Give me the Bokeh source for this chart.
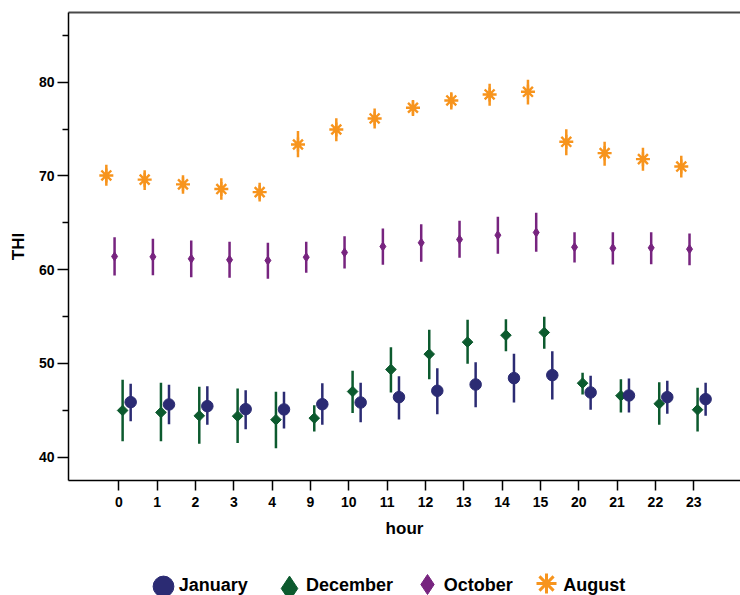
import math
from bokeh.plotting import figure
from bokeh.layouts import column
from bokeh.models import (ColumnDataSource, Range1d, FixedTicker, LinearAxis,
                          Legend, LegendItem, Label)
from bokeh.transform import dodge
from bokeh.embed import file_html
from bokeh.resources import INLINE

# ---------------- data ----------------
hours = ["0", "1", "2", "3", "4", "9", "10", "11", "12", "13", "14", "15",
         "20", "21", "22", "23"]

august_mean = [70.05, 69.6, 69.1, 68.6, 68.27, 73.35, 74.95, 76.13, 77.27, 78.05,
               78.69, 78.97, 73.64, 72.43, 71.79, 71.0]
august_low = [68.96, 68.5, 68.1, 67.46, 67.27, 72.0, 73.7, 75.05, 76.4, 77.09,
              77.48, 77.62, 72.21, 71.08, 70.55, 69.84]
august_high = [71.2, 70.6, 70.08, 69.76, 69.27, 74.8, 76.15, 77.2, 78.1, 78.93,
               79.83, 80.26, 74.99, 73.64, 73.0, 72.15]

october_mean = [61.41, 61.37, 61.16, 61.05, 60.98, 61.33, 61.83, 62.47, 62.87, 63.22,
                63.68, 63.97, 62.4, 62.29, 62.33, 62.19]
october_low = [59.38, 59.4, 59.2, 59.14, 59.03, 59.67, 60.13, 60.52, 60.84, 61.27,
               61.7, 61.9, 60.77, 60.55, 60.59, 60.48]
october_high = [63.47, 63.3, 63.1, 62.97, 62.87, 62.97, 63.57, 64.39, 64.85, 65.21,
                65.64, 66.07, 64.0, 64.0, 64.0, 63.86]

december_mean = [44.98, 44.77, 44.41, 44.37, 43.99, 44.16, 47.0, 49.35, 50.99, 52.27,
                 53.01, 53.3, 47.89, 46.55, 45.7, 45.06]
december_low = [41.71, 41.71, 41.43, 41.5, 40.96, 42.74, 44.7, 46.9, 48.32, 49.96,
                51.31, 51.56, 46.69, 44.77, 43.46, 42.74]
december_high = [48.26, 47.94, 47.51, 47.33, 46.98, 45.55, 49.22, 51.73, 53.59, 54.65,
                 54.72, 54.98, 49.0, 48.32, 48.0, 47.4]

january_mean = [45.87, 45.62, 45.44, 45.12, 45.09, 45.65, 45.83, 46.4, 47.08, 47.75,
                48.43, 48.75, 46.9, 46.58, 46.4, 46.19]
january_low = [43.84, 43.52, 43.46, 42.99, 43.06, 43.46, 43.73, 44.02, 44.59, 45.33,
               45.83, 46.15, 45.06, 44.77, 44.63, 44.42]
january_high = [47.83, 47.72, 47.57, 47.15, 46.98, 47.89, 47.94, 48.64, 49.49, 50.13,
                51.03, 51.31, 48.68, 48.4, 48.15, 47.94]

series_labels = ["January", "December", "October", "August"]

y_major = [40, 50, 60, 70, 80]
y_minor = [45, 55, 65, 75, 85]

# ---------------- style ----------------
FONT = "Liberation Sans"
C_AUG = "#F7941D"
C_OCT = "#77247F"
C_DEC = "#0C5A2E"
C_JAN = "#2B2B73"

src = ColumnDataSource(dict(
    x=list(range(len(hours))),
    aug_mean=august_mean, aug_low=august_low, aug_high=august_high,
    oct_mean=october_mean, oct_low=october_low, oct_high=october_high,
    dec_mean=december_mean, dec_low=december_low, dec_high=december_high,
    jan_mean=january_mean, jan_low=january_low, jan_high=january_high,
))

p = figure(width=740, height=550,
           x_range=Range1d(-1.312, 16.22), y_range=Range1d(37.51, 87.43),
           output_backend="svg", toolbar_location=None,
           min_border_left=68, min_border_right=0, min_border_top=12,
           min_border_bottom=70, outline_line_color=None,
           background_fill_color="white", border_fill_color="white")
p.xgrid.visible = False
p.ygrid.visible = False

# ---------------- glyphs ----------------
OFF = {"aug": -0.325, "oct": -0.11, "dec": 0.10, "jan": 0.31}
COL = {"aug": C_AUG, "oct": C_OCT, "dec": C_DEC, "jan": C_JAN}
for key in ["aug", "oct", "dec", "jan"]:
    xs = dodge("x", OFF[key])
    p.segment(x0=xs, y0=f"{key}_low", x1=xs, y1=f"{key}_high", source=src,
              line_color=COL[key], line_width=2.5)

p.scatter(x=dodge("x", OFF["aug"]), y="aug_mean", source=src,
          marker="asterisk", size=14, line_color=C_AUG, line_width=2.4)
p.scatter(x=dodge("x", OFF["aug"]), y="aug_mean", source=src, marker="circle",
          size=5, fill_color=C_AUG, line_color=C_AUG)
p.scatter(x=dodge("x", OFF["oct"]), y="oct_mean", source=src,
          marker="diamond", size=9, fill_color=C_OCT, line_color=C_OCT)
p.scatter(x=dodge("x", OFF["dec"]), y="dec_mean", source=src,
          marker="square", angle=math.pi / 4, size=7.5,
          fill_color=C_DEC, line_color=C_DEC)
p.scatter(x=dodge("x", OFF["jan"]), y="jan_mean", source=src,
          marker="circle", size=11.5, fill_color=C_JAN, line_color=C_JAN)

# ---------------- axes ----------------
xa = p.xaxis[0]
xa.ticker = FixedTicker(ticks=list(range(len(hours))))
xa.major_label_overrides = {i: h for i, h in enumerate(hours)}
xa.major_tick_out = 10
xa.major_tick_in = 0
xa.major_label_standoff = 6
xa.axis_label = "hour"
xa.axis_label_standoff = 9

ya = p.yaxis[0]
ya.ticker = FixedTicker(ticks=y_major, minor_ticks=y_minor)
ya.major_tick_out = 11
ya.major_tick_in = 0
ya.minor_tick_out = 6
ya.minor_tick_in = 0
ya.major_label_standoff = 3
ya.axis_label = "THI"
ya.axis_label_standoff = 8

for ax in (xa, ya):
    ax.axis_line_color = "black"
    ax.axis_line_width = 1.5
    ax.major_tick_line_color = "black"
    ax.major_tick_line_width = 1.5
    ax.minor_tick_line_width = 1.5
    ax.major_label_text_font = FONT
    ax.major_label_text_font_style = "bold"
    ax.major_label_text_font_size = "14px"
    ax.major_label_text_color = "black"
    ax.axis_label_text_font = FONT
    ax.axis_label_text_font_style = "bold"
    ax.axis_label_text_font_size = "17px"
    ax.axis_label_text_color = "black"
xa.minor_tick_line_color = None
ya.minor_tick_line_color = "black"

top = LinearAxis(ticker=FixedTicker(ticks=[]), major_tick_out=0, major_tick_in=0,
                 minor_tick_line_color=None, major_label_text_font_size="0px",
                 axis_line_color="#4a4a4a", axis_line_width=1.8)
p.add_layout(top, "above")

# ---------------- legend strip ----------------
LEG_H = 45
lg = figure(width=740, height=LEG_H, x_range=Range1d(0, 1), y_range=Range1d(0, 1),
            x_axis_type=None, y_axis_type=None, output_backend="svg",
            toolbar_location=None, min_border=0, outline_line_color=None,
            background_fill_color="white", border_fill_color="white")
lg.xgrid.visible = False
lg.ygrid.visible = False

# key glyphs (drawn from the real series; all points fall outside this strip's view)
key_rends = {
    "jan": lg.scatter(x="x", y="jan_mean", source=src, marker="circle",
                      fill_color=C_JAN, line_color=C_JAN),
    "dec": lg.scatter(x="x", y="dec_mean", source=src, marker="diamond",
                      fill_color=C_DEC, line_color=C_DEC),
    "oct": lg.scatter(x="x", y="oct_mean", source=src, marker="diamond",
                      fill_color=C_OCT, line_color=C_OCT),
    "aug": lg.scatter(x="x", y="aug_mean", source=src, marker="asterisk",
                      line_color=C_AUG, line_width=3),
}

FL = 68          # strip frame's left edge on the page
PAGE_BOTTOM = 595
CY = 584
# key, glyph box, key centre x, key centre y, label start x
legend_specs = [
    ("jan", 52, 162.5, 586.0, 178.3),
    ("dec", 62, 289.0, 588.0, 305.5),
    ("oct", 50, 427.0, 584.0, 443.3),
    ("aug", 50, 546.0, 582.5, 562.7),
]
for label, (key, g, cx, cy, tx) in zip(series_labels, legend_specs):
    leg = Legend(items=[LegendItem(label=" ", renderers=[key_rends[key]])],
                 location=(cx - g / 2 - FL, PAGE_BOTTOM - (cy + g / 2)),
                 orientation="horizontal", glyph_width=g, glyph_height=g,
                 label_standoff=0, label_width=0,
                 padding=0, margin=0, spacing=0,
                 border_line_color=None, background_fill_alpha=0,
                 label_text_font_size="1px")
    lg.add_layout(leg, "center")
    lg.add_layout(Label(x=tx - FL, y=PAGE_BOTTOM - CY, x_units="screen",
                        y_units="screen", text=label, text_baseline="middle",
                        text_align="left", text_font=FONT, text_font_style="bold",
                        text_font_size="18px", text_color="black"))

layout = column(p, lg, spacing=0)
open("out.html", "w").write(file_html(layout, INLINE))
